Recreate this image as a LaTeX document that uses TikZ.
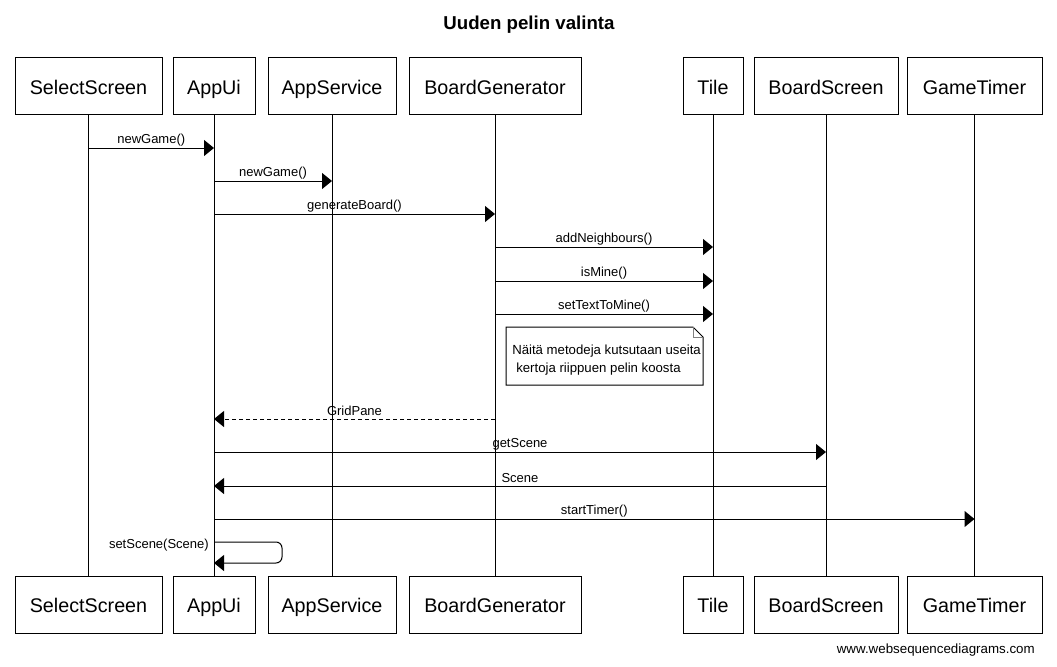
\documentclass[tikz,border=0pt]{standalone}
\usepackage{fontspec}
\setmainfont{Liberation Sans}
\usetikzlibrary{arrows.meta}
\tikzset{
  pbox/.style={draw, line width=0.75pt, minimum height=42.75pt, inner sep=0pt, text height=12.85pt, text depth=0.85pt, font=\fontsize{14.8pt}{16pt}\selectfont},
  life/.style={line width=0.75pt},
  msg/.style={line width=0.75pt, -{Triangle[length=7.5pt,width=12pt]}},
  reply/.style={msg, dash pattern=on 3pt off 2.25pt},
  lbl/.style={font=\fontsize{9.75pt}{11pt}\selectfont, inner sep=0pt, yshift=6pt},
  note/.style={draw, line width=0.75pt, fill=white},
}
\begin{document}
\begin{tikzpicture}[x=0.75pt, y=-0.75pt]
\useasboundingbox (0,0) rectangle (1057,667);
\node[font=\fontsize{14pt}{16pt}\selectfont\bfseries] (title) at (529,25) {Uuden pelin valinta};
% top participants
\node[pbox, minimum width=110.25pt] (tSel) at (88.5,86.5) {SelectScreen};
\node[pbox, minimum width=61.5pt] (tApp) at (214,86.5) {AppUi};
\node[pbox, minimum width=96pt] (tSrv) at (332,86.5) {AppService};
\node[pbox, minimum width=129pt] (tGen) at (495,86.5) {BoardGenerator};
\node[pbox, minimum width=45pt] (tTile) at (713,86.5) {Tile};
\node[pbox, minimum width=108pt] (tBS) at (826,86.5) {BoardScreen};
\node[pbox, minimum width=101.25pt] (tGT) at (974.5,86.5) {GameTimer};
% bottom participants
\node[pbox, minimum width=110.25pt] (bSel) at (88.5,604.5) {SelectScreen};
\node[pbox, minimum width=61.5pt] (bApp) at (214,604.5) {AppUi};
\node[pbox, minimum width=96pt] (bSrv) at (332,604.5) {AppService};
\node[pbox, minimum width=129pt] (bGen) at (495,604.5) {BoardGenerator};
\node[pbox, minimum width=45pt] (bTile) at (713,604.5) {Tile};
\node[pbox, minimum width=108pt] (bBS) at (826,604.5) {BoardScreen};
\node[pbox, minimum width=101.25pt] (bGT) at (974.5,604.5) {GameTimer};
% lifelines
\foreach \a/\b in {tSel/bSel, tApp/bApp, tSrv/bSrv, tGen/bGen, tTile/bTile, tBS/bBS, tGT/bGT}
  \draw[life] (\a.south) -- (\b.north);
% messages
\draw[msg] (tSel |- 0,148) -- node[lbl] {newGame()} (tApp |- 0,148);
\draw[msg] (tApp |- 0,181) -- node[lbl] {newGame()} (tSrv |- 0,181);
\draw[msg] (tApp |- 0,214) -- node[lbl] {generateBoard()} (tGen |- 0,214);
\draw[msg] (tGen |- 0,247) -- node[lbl] {addNeighbours()} (tTile |- 0,247);
\draw[msg] (tGen |- 0,281) -- node[lbl] {isMine()} (tTile |- 0,281);
\draw[msg] (tGen |- 0,314) -- node[lbl] {setTextToMine()} (tTile |- 0,314);
% note
\draw[note] (506,327) -- (693,327) -- (703,337) -- (703,385) -- (506,385) -- cycle;
\draw[line width=0.75pt, gray] (693,327) -- (693,337) -- (703,337);
\node[font=\fontsize{9.9pt}{13.5pt}\selectfont, anchor=north west, inner sep=0pt, align=left] (noteText) at (512,344.5)
  {Näitä metodeja kutsutaan useita\\\hspace*{3pt}kertoja riippuen pelin koosta};
\draw[reply] (tGen |- 0,419) -- node[lbl] {GridPane} (tApp |- 0,419);
\draw[msg] (tApp |- 0,452) -- node[lbl] {getScene} (tBS |- 0,452);
\draw[msg] (tBS |- 0,486) -- node[lbl] {Scene} (tApp |- 0,486);
\draw[msg] (tApp |- 0,519) -- node[lbl] {startTimer()} (tGT |- 0,519);
% self message
\coordinate (selfOut) at (tApp |- 0,542);
\coordinate (selfIn) at (tApp |- 0,563);
\draw[msg, rounded corners=4.5pt] (selfOut) -- ++(68,0) |- (selfIn);
\node[font=\fontsize{9.75pt}{11pt}\selectfont, inner sep=0pt, anchor=east] (selfLbl) at (209,545) {setScene(Scene)};
% footer
\node[font=\fontsize{10pt}{12pt}\selectfont, inner sep=0pt, anchor=east] (footer) at (1035,650) {www.websequencediagrams.com};
\end{tikzpicture}
\end{document}
